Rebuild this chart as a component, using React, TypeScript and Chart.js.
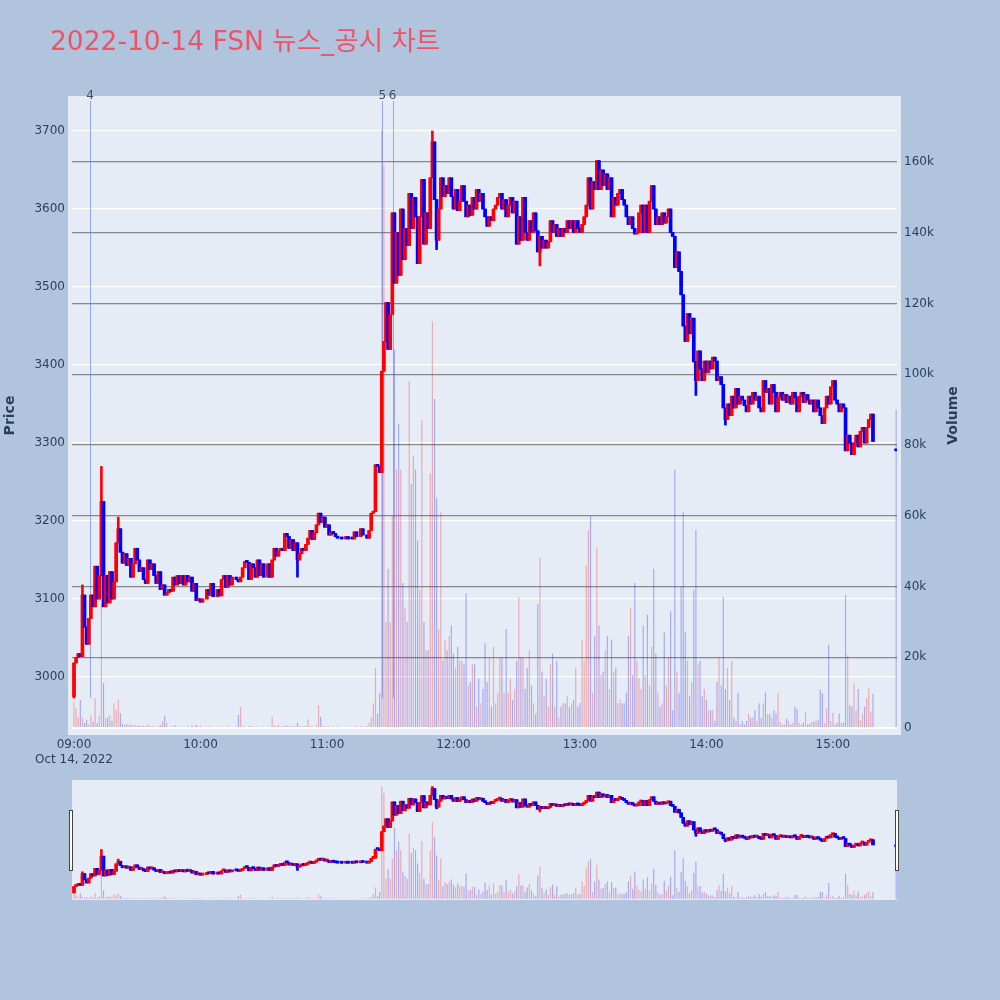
import React, { useEffect, useRef } from 'react';
import { Chart, registerables } from 'chart.js';
Chart.register(...registerables);

const titleText = '2022-10-14 FSN 뉴스_공시 차트';
const priceTitle = 'Price';
const volumeTitle = 'Volume';
const xTickMinutes = [0, 60, 120, 180, 240, 300, 360];
const xTickLabels = ['09:00', '10:00', '11:00', '12:00', '13:00', '14:00', '15:00'];
const dateLabel = 'Oct 14, 2022';
const priceTicks = [3000, 3100, 3200, 3300, 3400, 3500, 3600, 3700];
const volumeTicks = [0, 20000, 40000, 60000, 80000, 100000, 120000, 140000, 160000];
const volumeTickLabels = ['0', '20k', '40k', '60k', '80k', '100k', '120k', '140k', '160k'];

// close price per minute, 09:00 .. 15:30 (null = no trade)
const close09 = [3018,3025,3030,3026,3105,3064,3042,3075,3105,3090,
  3142,3100,3130,3225,3090,3130,3095,3135,3100,3122,
  3172,3190,3160,3146,3158,3143,3152,3128,3145,3165,
  3150,3135,3140,3125,3120,3150,3138,3145,3130,3120,
  3135,3112,3118,3105,3108,3112,3110,3128,3118,3130,
  3120,3130,3118,3130,3122,3128,3110,3120,3098,3100];
const close10 = [3096,3100,null,3112,3105,3120,3103,null,3112,3104,
  3125,3130,3115,3130,3118,3128,null,3125,3122,3128,
  3140,3148,3147,3125,3145,3140,3128,3150,3130,3145,
  3128,null,3145,3128,3150,3165,3155,3162,3165,3162,
  3184,3180,3165,3176,3162,3172,3150,3158,3165,3162,
  3170,3178,3188,3176,3185,3195,3210,3198,3205,3192];
const close11 = [3195,3182,3186,3184,3180,3178,null,3177,null,3180,
  3177,null,3177,3186,3180,null,3190,3182,null,3178,
  3188,3210,3212,3272,3270,3262,3392,3430,3480,3420,
  3465,3595,3505,3570,3515,3600,3535,3575,3553,3620,
  3575,3615,3590,3530,3590,3638,3555,3595,3575,3640,
  3686,3612,3560,3600,3640,3616,3630,3620,3640,3616];
const close12 = [3600,3625,3598,3610,3630,3610,3590,3605,3592,3615,
  3600,3625,3610,3620,3600,3590,3578,3590,3585,3600,
  3605,3615,3620,3600,3612,3590,3605,3615,3595,3610,
  3555,3590,3560,3615,3570,3560,3585,3570,3595,3572,
  3545,3565,3550,3560,3550,3558,3585,3570,3580,3565,
  3575,3565,3575,3570,3585,3575,3585,3570,3585,3575];
const close13 = [3570,3580,3590,3605,3640,3600,3635,3625,3662,3625,
  3650,3630,3645,3625,3640,3590,3615,3605,3620,3625,
  3612,3605,3590,3580,3590,3575,3568,3570,3595,3605,
  3570,3605,3570,3610,3630,3600,3580,3590,3580,3595,
  3582,3590,3600,3570,3565,3525,3545,3520,3490,3450,
  3430,3466,3440,3460,3404,3380,3418,3395,3380,3405];
const close14 = [3390,3405,3395,3410,3405,3380,3385,3375,3345,3330,
  3350,3335,3360,3345,3370,3350,3360,3355,3348,3340,
  3360,3350,3365,3355,3360,3345,3340,3380,3365,3370,
  3350,3375,3365,3340,3358,3365,3355,3362,3352,3360,
  3350,3365,3358,3340,3360,3365,3352,3362,3355,3350,
  3355,3340,3355,3345,3335,3325,3345,3360,3350,3372];
const close15 = [3380,3355,3350,3340,3350,3345,3290,3310,3300,3285,
  3300,3310,3295,3315,3320,3300,3320,3330,3337,3302,
  null,null,null,null,null,null,null,null,null,null,
  3290];

// volume per minute
const vol09 = [7400,5600,3000,7900,3000,1400,2300,1000,3600,1800,
  8400,1400,3400,35000,12700,2700,3000,3600,2000,7000,
  5000,7900,4200,1200,900,1000,800,900,700,800,
  600,700,500,600,400,1000,500,600,400,300,
  500,800,2000,3400,1500,300,400,500,800,400,
  300,500,400,300,600,300,700,400,900,500];
const vol10 = [600,300,0,500,400,600,300,0,400,300,
  500,400,300,600,400,300,0,400,3700,6000,
  500,400,300,600,500,400,300,500,400,300,
  400,0,500,300,3200,700,500,900,400,500,
  600,700,500,400,600,500,1500,600,400,500,
  700,2500,500,400,300,800,6500,3200,600,400];
const vol11 = [400,500,300,400,300,500,0,300,0,400,
  300,0,300,500,400,0,600,400,0,500,
  1500,3000,7000,17000,4000,10000,169000,159000,30000,45000,
  30000,60000,107000,73000,86000,73000,41000,34000,30000,98000,
  69000,77000,73000,53000,39000,87000,30000,22000,22000,72000,
  115000,93000,65000,28000,61000,19000,25000,22000,26000,29000];
const vol12 = [21000,17000,23000,19000,19000,18000,38000,12000,13000,18000,
  18000,6000,14000,7000,11000,24000,13000,20000,6000,23000,
  7000,10000,20000,20000,10000,28000,10000,14000,8000,11000,
  19000,37000,20000,20000,11000,17000,22000,12000,7000,4000,
  35000,48000,16000,9000,14000,6000,18000,21000,6000,19000,
  3000,6000,7000,7000,9000,6000,7000,8000,17000,6000];
const vol13 = [7000,25000,19000,46000,56000,60000,10000,26000,51000,29000,
  15000,16000,22000,26000,11000,25000,16000,17000,7000,8000,
  7000,7000,10000,26000,34000,15000,41000,19000,14000,11000,
  29000,15000,32000,12000,23000,45000,21000,10000,6000,7000,
  27000,12000,20000,33000,5000,73000,16000,10000,40000,61000,
  27000,19000,9000,13000,39000,56000,18000,19000,9000,11000];
const vol14 = [8000,5000,5000,5000,2000,13000,20000,12000,37000,11000,
  17000,8000,19000,3000,2000,10000,1000,2000,1000,2000,
  4000,3000,3000,5000,2000,7000,3000,7000,10000,4000,
  4000,3000,5000,4000,10000,1800,1000,1000,2700,2000,
  1000,1500,6000,5300,1500,1000,1500,4600,1000,1200,
  1800,1800,2200,2200,10800,9800,1500,5600,23500,2000];
const vol15 = [4300,1000,1500,4100,1500,1500,37600,20600,6500,6000,
  12500,5000,11000,2200,4100,6000,8400,11200,4600,9600,
  0,0,0,0,0,0,0,0,0,0,
  90000];

// explicit opens (otherwise open = previous close)
const openMinutes = [0, 390];
const openValues = [2975, 3291];
// wick extremes beyond the body
const wickMinutes = [0, 4, 13, 21, 106, 170, 172, 221, 295, 309];
const wickHigh = [null, 3118, 3270, 3205, null, 3700, null, null, null, null];
const wickLow = [2973, null, null, null, 3128, null, 3548, 3527, 3361, 3323];

// news markers
const newsLabels = ['4', '5', '6'];
const newsMinutes = [7.6, 146.3, 151.1];

const X_MIN = -0.95, X_MAX = 390.4;
const P_MIN = 2925.6, P_MAX = 3744.9;
const V_MIN = -1979, V_MAX = 178660;

const FONT = "'DejaVu Sans', 'Noto Sans CJK KR', sans-serif";
const TEXT = '#2a3f5f';
const PLOT_BG = '#e5ecf6';
const UP = '#ff0000', DOWN = '#0000ff';
const UP_V = 'rgba(255,0,0,0.28)', DOWN_V = 'rgba(0,0,255,0.28)';

type Candle = { m: number; o: number; c: number; hi: number; lo: number; v: number; up: boolean };

function buildCandles(): Candle[] {
  const closes = [...close09, ...close10, ...close11, ...close12, ...close13, ...close14, ...close15];
  const vols = [...vol09, ...vol10, ...vol11, ...vol12, ...vol13, ...vol14, ...vol15];
  const out: Candle[] = [];
  let prev: number | null = null;
  closes.forEach((c, m) => {
    if (c == null) return;
    const oi = openMinutes.indexOf(m);
    const o = oi >= 0 ? openValues[oi] : (prev ?? c);
    let hi = Math.max(o, c), lo = Math.min(o, c);
    const wi = wickMinutes.indexOf(m);
    if (wi >= 0) {
      if (wickHigh[wi] != null) hi = Math.max(hi, wickHigh[wi] as number);
      if (wickLow[wi] != null) lo = Math.min(lo, wickLow[wi] as number);
    }
    out.push({ m, o, c, hi, lo, v: vols[m], up: c > o });
    prev = c;
  });
  return out;
}

function makeDatasets(candles: Candle[]) {
  return [
    {
      type: 'bar', label: 'wick', yAxisID: 'yPrice', order: 2, grouped: false,
      data: candles.map(k => ({ x: k.m, y: [k.lo, k.hi] })),
      backgroundColor: candles.map(k => (k.up ? UP : DOWN)),
      barThickness: 2,
    },
    {
      type: 'bar', label: 'body', yAxisID: 'yPrice', order: 1, grouped: false,
      data: candles.map(k => ({ x: k.m, y: [k.o, k.c] })),
      backgroundColor: candles.map(k => (k.up ? UP : DOWN)),
      barThickness: 3, minBarLength: 2,
    },
    {
      type: 'bar', label: 'volume', yAxisID: 'yVol', order: 3, grouped: false,
      data: candles.map(k => ({ x: k.m, y: k.v })),
      backgroundColor: candles.map(k => (k.up ? UP_V : DOWN_V)),
      barThickness: 1.2, inflateAmount: 0,
    },
  ];
}

export default function App() {
  const mainRef = useRef<HTMLCanvasElement | null>(null);
  const sliderRef = useRef<HTMLCanvasElement | null>(null);

  useEffect(() => {
    const candles = buildCandles();
    const dayLow = Math.min(...candles.map(k => k.lo));
    const tickFont = { family: FONT, size: 12, lineHeight: 1.25 };

    const mainPlugin = {
      id: 'mainOverlay',
      beforeDraw(chart: any) {
        const { ctx, chartArea: a } = chart;
        ctx.save();
        ctx.fillStyle = PLOT_BG;
        ctx.fillRect(a.left - 4, a.top, a.right - a.left + 8, a.bottom - a.top);
        ctx.restore();
      },
      beforeDatasetsDraw(chart: any) {
        const { ctx, chartArea: a, scales } = chart;
        const yb = scales.yPrice.getPixelForValue(dayLow);
        ctx.save();
        ctx.strokeStyle = 'rgba(80,110,250,0.55)';
        ctx.lineWidth = 1;
        newsMinutes.forEach(m => {
          const x = Math.round(scales.x.getPixelForValue(m)) + 0.5;
          ctx.beginPath();
          ctx.moveTo(x, a.top + 5);
          ctx.lineTo(x, yb);
          ctx.stroke();
        });
        ctx.restore();
      },
      afterDraw(chart: any) {
        const { ctx, chartArea: a, scales } = chart;
        ctx.save();
        ctx.fillStyle = '#ee5468';
        ctx.font = `26.5px ${FONT}`;
        ctx.textAlign = 'left';
        ctx.textBaseline = 'alphabetic';
        ctx.fillText(titleText, 50, 50);
        ctx.fillStyle = '#444b5a';
        ctx.font = `12px ${FONT}`;
        ctx.textAlign = 'center';
        ctx.textBaseline = 'middle';
        newsLabels.forEach((t, i) => {
          ctx.fillText(t, scales.x.getPixelForValue(newsMinutes[i]), a.top);
        });
        const cy = (a.top + a.bottom) / 2;
        ctx.fillStyle = TEXT;
        ctx.font = `bold 14px ${FONT}`;
        ctx.save();
        ctx.translate(10, cy);
        ctx.rotate(-Math.PI / 2);
        ctx.fillText(priceTitle, 0, 0);
        ctx.restore();
        ctx.save();
        ctx.translate(953, cy);
        ctx.rotate(-Math.PI / 2);
        ctx.fillText(volumeTitle, 0, 0);
        ctx.restore();
        ctx.restore();
      },
    };

    const main = new Chart(mainRef.current as HTMLCanvasElement, {
      type: 'bar',
      data: { datasets: makeDatasets(candles) as any },
      options: {
        animation: false, responsive: false, maintainAspectRatio: false, events: [],
        layout: { padding: { top: 96, left: 0, right: 0, bottom: 0 } },
        plugins: { legend: { display: false }, tooltip: { enabled: false }, title: { display: false } },
        scales: {
          x: {
            type: 'linear', min: X_MIN, max: X_MAX, offset: false,
            grid: { display: false, drawTicks: false }, border: { display: false },
            afterFit: (s: any) => { s.height = 35; },
            afterBuildTicks: (s: any) => { s.ticks = xTickMinutes.map(v => ({ value: v })); },
            ticks: {
              autoSkip: false, maxRotation: 0, minRotation: 0, padding: 2,
              font: tickFont, color: TEXT,
              callback: (v: any) => {
                const i = xTickMinutes.indexOf(Number(v));
                if (i < 0) return '';
                return i === 0 ? [xTickLabels[0], dateLabel] : xTickLabels[i];
              },
            },
          },
          yPrice: {
            type: 'linear', position: 'left', min: P_MIN, max: P_MAX,
            border: { display: false },
            grid: { color: '#ffffff', lineWidth: 1.2, drawTicks: false },
            afterFit: (s: any) => { s.width = 72; },
            afterBuildTicks: (s: any) => { s.ticks = priceTicks.map(v => ({ value: v })); },
            ticks: { padding: 7, font: tickFont, color: TEXT, callback: (v: any) => String(v) },
          },
          yVol: {
            type: 'linear', position: 'right', min: V_MIN, max: V_MAX,
            border: { display: false },
            grid: {
              drawTicks: false,
              color: (c: any) => (c.tick && c.tick.value === 0 ? '#ffffff' : 'rgba(120,120,120,0.85)'),
              lineWidth: (c: any) => (c.tick && c.tick.value === 0 ? 2 : 1.3),
            },
            afterFit: (s: any) => { s.width = 103; },
            afterBuildTicks: (s: any) => { s.ticks = volumeTicks.map(v => ({ value: v })); },
            ticks: {
              padding: 7, font: tickFont, color: TEXT,
              callback: (v: any) => {
                const i = volumeTicks.indexOf(Number(v));
                return i >= 0 ? volumeTickLabels[i] : '';
              },
            },
          },
        },
      } as any,
      plugins: [mainPlugin as any],
    });

    const sliderPlugin = {
      id: 'sliderOverlay',
      beforeDraw(chart: any) {
        const { ctx, chartArea: a } = chart;
        ctx.save();
        ctx.fillStyle = PLOT_BG;
        ctx.fillRect(a.left, a.top, a.right - a.left, a.bottom - a.top);
        ctx.restore();
      },
      afterDraw(chart: any) {
        const { ctx, chartArea: a } = chart;
        const h = a.bottom - a.top;
        ctx.save();
        ctx.fillStyle = '#ffffff';
        ctx.strokeStyle = '#444444';
        ctx.lineWidth = 1;
        [a.left - 3, a.right - 2].forEach(x => {
          ctx.fillRect(x + 0.5, a.top + h * 0.25 + 0.5, 3, h * 0.5);
          ctx.strokeRect(x + 0.5, a.top + h * 0.25 + 0.5, 3, h * 0.5);
        });
        ctx.restore();
      },
    };

    const slider = new Chart(sliderRef.current as HTMLCanvasElement, {
      type: 'bar',
      data: { datasets: makeDatasets(candles) as any },
      options: {
        animation: false, responsive: false, maintainAspectRatio: false, events: [],
        layout: { padding: { top: 10, left: 72, right: 103, bottom: 0 } },
        plugins: { legend: { display: false }, tooltip: { enabled: false } },
        scales: {
          x: { type: 'linear', min: X_MIN, max: X_MAX, offset: false, display: false },
          yPrice: { type: 'linear', min: P_MIN, max: P_MAX, display: false },
          yVol: { type: 'linear', min: V_MIN, max: V_MAX, display: false },
        },
      } as any,
      plugins: [sliderPlugin as any],
    });

    return () => { main.destroy(); slider.destroy(); };
  }, []);

  return (
    <div style={{ position: 'absolute', left: 0, top: 0, width: 1000, height: 1000, background: '#b0c4de', overflow: 'hidden' }}>
      <canvas ref={mainRef} width={1000} height={770} style={{ position: 'absolute', left: 0, top: 0 }} />
      <canvas ref={sliderRef} width={1000} height={130} style={{ position: 'absolute', left: 0, top: 770 }} />
    </div>
  );
}
